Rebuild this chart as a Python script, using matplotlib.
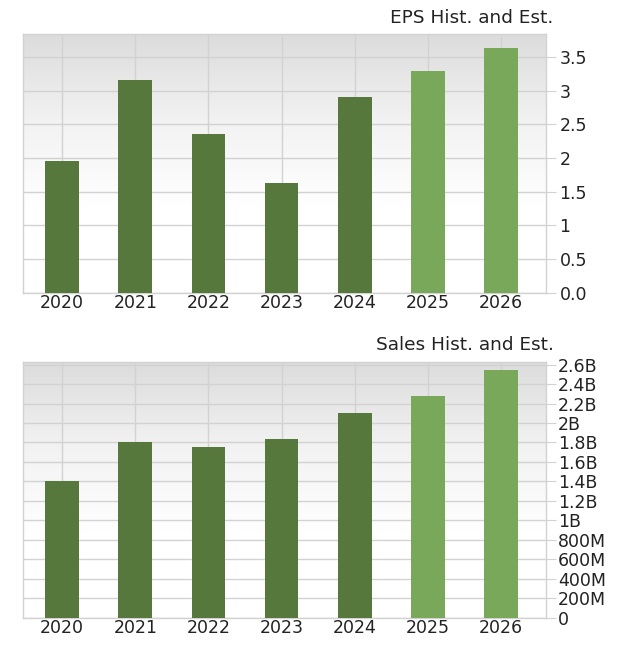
import numpy as np
import matplotlib.pyplot as plt
from matplotlib.colors import LinearSegmentedColormap
from matplotlib.ticker import FuncFormatter

plt.rcParams['font.family'] = ['DejaVu Sans']

years = ['2020', '2021', '2022', '2023', '2024', '2025', '2026']
eps = [1.96, 3.16, 2.36, 1.63, 2.91, 3.29, 3.64]
sales = [1.405e9, 1.81e9, 1.756e9, 1.833e9, 2.107e9, 2.277e9, 2.541e9]
estimate = [False, False, False, False, False, True, True]

eps_ticks = [0, 0.5, 1, 1.5, 2, 2.5, 3, 3.5]
eps_labels = ['0.0', '0.5', '1', '1.5', '2', '2.5', '3', '3.5']
sales_ticks = np.arange(0, 2.61e9, 2e8)

hist_color = '#56783c'
est_color = '#79a85b'
grid_color = '#d2d2d2'

bg = LinearSegmentedColormap.from_list('bg', ['#dcdcdc', '#f2f2f2', '#ffffff', '#ffffff'])


def money(v, pos):
    if v == 0:
        return '0'
    if v >= 1e9:
        return '%gB' % round(v / 1e9, 1)
    return '%gM' % round(v / 1e6)


def draw_panel(ax, values, ymax, title):
    x = np.arange(len(years))
    colors = [est_color if e else hist_color for e in estimate]
    grad = np.linspace(0, 1, 256).reshape(-1, 1)
    ax.imshow(grad, cmap=bg, aspect='auto', extent=[0, 1, 0, 1],
              transform=ax.transAxes, zorder=0)
    ax.bar(x, values, width=0.46, color=colors, zorder=3)
    ax.set_xlim(-0.54, 6.61)
    ax.set_ylim(0, ymax)
    ax.set_xticks(x)
    ax.set_xticklabels(years)
    ax.yaxis.tick_right()
    ax.grid(True, color=grid_color, linewidth=1, zorder=1)
    ax.set_axisbelow(True)
    for s in ax.spines.values():
        s.set_color(grid_color)
        s.set_linewidth(1)
    ax.tick_params(axis='x', length=0, labelsize=12.5, pad=1, colors='#222222')
    ax.tick_params(axis='y', length=7, color=grid_color, labelsize=12.5,
                   pad=3, labelcolor='#222222')
    ax.text(1.015, 1.03, title, transform=ax.transAxes, ha='right',
            va='bottom', fontsize=13.3, color='#222222')


fig = plt.figure(figsize=(6.2, 6.51), dpi=100)
ax1 = fig.add_axes([0.0365, 0.5504, 0.8435, 0.3969])
ax2 = fig.add_axes([0.0365, 0.0511, 0.8435, 0.3933])

draw_panel(ax1, eps, 3.84, 'EPS Hist. and Est.')
ax1.set_yticks(eps_ticks)
ax1.set_yticklabels(eps_labels)

draw_panel(ax2, sales, 2.63e9, 'Sales Hist. and Est.')
ax2.set_yticks(sales_ticks)
ax2.yaxis.set_major_formatter(FuncFormatter(money))
ax2.tick_params(axis='y', pad=2)

fig.savefig('out.png', dpi=100)
